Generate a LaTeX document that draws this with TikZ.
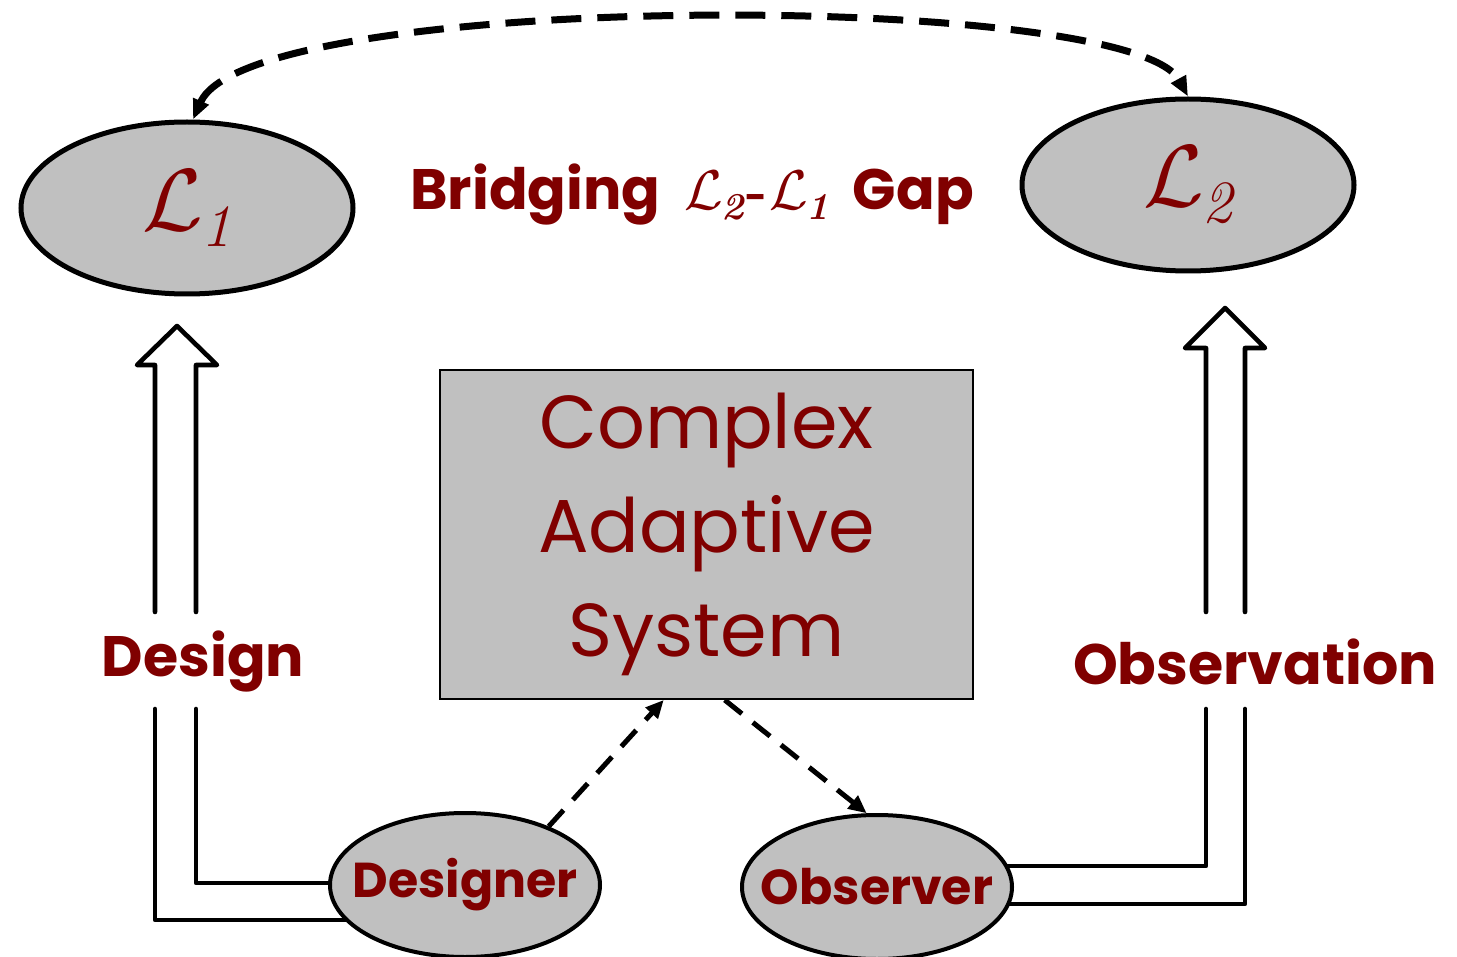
\documentclass[tikz,border=0pt]{standalone}
\usepackage{fontspec}
\setmainfont{Poppins}
\newfontfamily\lmr{Latin Modern Roman}
\usetikzlibrary{arrows.meta,calc,backgrounds,shapes.geometric}
\definecolor{dred}{HTML}{800000}
\definecolor{fillg}{HTML}{C0C0C0}
% #1 scale of the L (from 10pt), #2 size of the subscript, #3 drop of the subscript, #4 subscript
\newcommand\Lsym[4]{{\scalebox{#1}{\fontsize{10pt}{10pt}\selectfont$\mathcal{L}$}\kern-1pt\raisebox{-#3}{\lmr\itshape\fontsize{#2}{#2}\selectfont #4}}}
\begin{document}
\begin{tikzpicture}[x=0.5pt,y=-0.5pt,
  lnode/.style={ellipse,draw=black,fill=fillg,line width=2.5pt,minimum width=166pt,minimum height=86pt,inner sep=0pt,text=dred},
  pnode/.style={ellipse,draw=black,fill=fillg,line width=2pt,minimum width=135pt,minimum height=72pt,inner sep=0pt,text=dred,font=\bfseries\fontsize{24.5}{28}\selectfont},
  boxnode/.style={rectangle,draw=black,fill=fillg,line width=1pt,minimum width=266.5pt,minimum height=164.5pt,inner sep=0pt,text=dred,align=center,font=\fontsize{37.5}{52}\selectfont},
  lbl/.style={text=dred,font=\bfseries\fontsize{28.5}{32}\selectfont,inner sep=0pt},
  hollow/.style={line width=2.3pt,line join=round,line cap=round},
  topdash/.style={line width=3.5pt,dash pattern=on 15pt off 8pt},
  botdash/.style={line width=2.5pt,dash pattern=on 11pt off 7pt},
  tip/.style={-{Triangle[length=9pt,width=8pt]}}
]
\useasboundingbox (0,0) rectangle (1457,957);

% nodes
\node[lnode] (L1) at (187,208) {\raisebox{-4pt}{\Lsym{4.4}{30pt}{8pt}{1}}};
\node[lnode] (L2) at (1188,185) {\raisebox{-4pt}{\Lsym{4.4}{30pt}{8pt}{2}}};
\node[boxnode] (box) at (706.5,534.5) {Complex\\Adaptive\\System};
\node[pnode] (des) at (465,885) {\makebox[0pt]{Designer}};
\node[pnode] (obs) at (877,887) {\makebox[0pt]{Observer}};

\node[lbl] (gap) at (692,195) {Bridging\ \ \Lsym{2.8}{19pt}{5pt}{2}\kern1.5pt{\lmr\fontsize{28pt}{28pt}\selectfont -}\kern1pt\Lsym{2.8}{19pt}{5pt}{1}\ \ Gap};
\node[lbl] (design) at (203,662) {Design};
\node[lbl] (observation) at (1255,662) {Observation};

% hollow arrows (behind the ellipses)
\begin{scope}[on background layer]
  \draw[hollow] (des.center |- 0,883) -| (196,709);
  \draw[hollow] (des.center |- 0,920) -| (155,709);
  \draw[hollow] (obs.center |- 0,866) -| (1206,709);
  \draw[hollow] (obs.center |- 0,904) -| (1245,709);
\end{scope}
\draw[hollow] (196,612) -- (196,365) -- (217,365) -- (177,326) -- (137,365) -- (155,365) -- (155,612);
\draw[hollow] (1206,612) -- (1206,348) -- (1185,348) -- (1225,308) -- (1265,348) -- (1245,348) -- (1245,612);

% dashed connectors
\draw[topdash,{Triangle[length=10pt,width=8pt]}-{Triangle[length=10pt,width=8pt]}]
  ([xshift=3pt]L1.north) .. controls (250,-10) and (1130,-10) .. (L2.north);
\draw[botdash,tip] (des.35) -- ($(box.south west)!0.42!(box.south east)$);
\draw[botdash,tip] ($(box.south west)!0.534!(box.south east)$) -- (obs.98);
\end{tikzpicture}
\end{document}
